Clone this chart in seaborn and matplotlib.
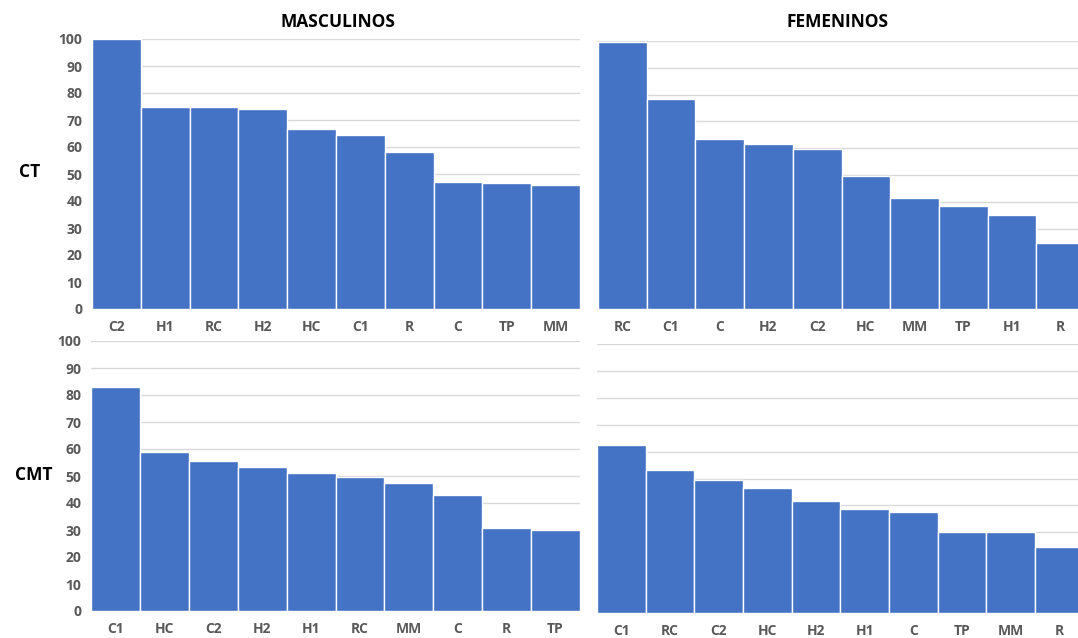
import numpy as np
import pandas as pd
import seaborn as sns
import matplotlib.pyplot as plt

sns.set_theme(style="white")
plt.rcParams["font.family"] = ["Open Sans", "DejaVu Sans"]

BLUE = "#4472C4"
GRID = "#D9D9D9"
TICK = "#595959"

# CT - masculinos
ct_m_cats = ["C2", "H1", "RC", "H2", "HC", "C1", "R", "C", "TP", "MM"]
ct_m_vals = [100, 75, 75, 74, 66.5, 64.6, 58.2, 47.2, 46.6, 46.1]

# CT - femeninos
ct_f_cats = ["RC", "C1", "C", "H2", "C2", "HC", "MM", "TP", "H1", "R"]
ct_f_vals = [99.5, 78.3, 63.6, 61.7, 59.7, 49.8, 41.4, 38.3, 35.1, 24.8]

# CMT - masculinos
cmt_m_cats = ["C1", "HC", "C2", "H2", "H1", "RC", "MM", "C", "R", "TP"]
cmt_m_vals = [83.1, 58.9, 55.4, 53.3, 51.1, 49.8, 47.3, 43.1, 30.9, 29.9]

# CMT - femeninos
cmt_f_cats = ["C1", "RC", "C2", "HC", "H2", "H1", "C", "TP", "MM", "R"]
cmt_f_vals = [62.6, 53.0, 49.4, 46.5, 41.5, 38.6, 37.5, 30.1, 30.1, 24.5]

W, H = 1078, 638
fig = plt.figure(figsize=(W / 100, H / 100), dpi=100)


def box(x0, x1, ytop, ybot):
    return [x0 / W, 1 - ybot / H, (x1 - x0) / W, (ybot - ytop) / H]


panels = [
    (ct_m_cats, ct_m_vals, box(92, 580, 39, 309), True, 9.5),
    (ct_f_cats, ct_f_vals, box(598, 1078, 41, 309), False, 9.356),
    (cmt_m_cats, cmt_m_vals, box(91, 580, 341, 611), True, 9.5),
    (cmt_f_cats, cmt_f_vals, box(597, 1078, 344, 613), False, 9.38),
]

axes = []
for cats, vals, rect, show_y, xmax in panels:
    ax = fig.add_axes(rect)
    df = pd.DataFrame({"cat": cats, "val": vals})
    sns.barplot(data=df, x="cat", y="val", order=cats, color=BLUE,
                saturation=1, width=1, edgecolor="white", linewidth=1.0, ax=ax)
    ax.set_xlim(-0.5, xmax)
    ax.set_ylim(0, 100)
    ax.set_yticks(np.arange(0, 101, 10))
    ax.yaxis.grid(True, color=GRID, linewidth=1)
    ax.set_axisbelow(True)
    for s in ax.spines.values():
        s.set_visible(False)
    ax.set_xlabel("")
    ax.set_ylabel("")
    ax.tick_params(axis="x", length=0, pad=8, labelsize=10, labelcolor=TICK)
    ax.tick_params(axis="y", length=0, pad=7, labelsize=10, labelcolor=TICK)
    for lab in ax.get_xticklabels() + ax.get_yticklabels():
        lab.set_fontweight("bold")
    if not show_y:
        ax.set_yticklabels([])
    axes.append(ax)

fig.text(338 / W, 1 - 22 / H, "MASCULINOS", ha="center", va="center",
         fontsize=12.5, fontweight="bold", color="black")
fig.text(838 / W, 1 - 22 / H, "FEMENINOS", ha="center", va="center",
         fontsize=12.5, fontweight="bold", color="black")
fig.text(30 / W, 1 - 172 / H, "CT", ha="center", va="center",
         fontsize=12.5, fontweight="bold", color="black")
fig.text(34 / W, 1 - 475 / H, "CMT", ha="center", va="center",
         fontsize=12.5, fontweight="bold", color="black")

fig.savefig("out.png", dpi=100)
